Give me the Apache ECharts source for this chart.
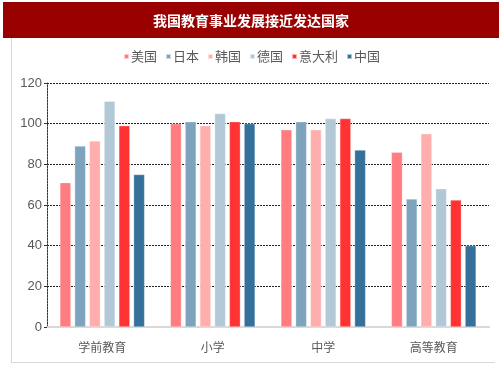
<!DOCTYPE html>
<html><head><meta charset="utf-8">
<script src="https://cdn.jsdelivr.net/npm/echarts@6/dist/echarts.min.js"></script>
<style>html,body{margin:0;padding:0;background:#fff}#c{width:503px;height:378px}</style>
</head><body><div id="c"></div>
<script>
const titleText = '我国教育事业发展接近发达国家';
const categories = ['学前教育', '小学', '中学', '高等教育'];
const seriesNames = ['美国', '日本', '韩国', '德国', '意大利', '中国'];
const usa = [71, 100, 97, 86];
const japan = [89, 101, 101, 63];
const korea = [91.5, 99, 97, 95];
const germany = [111, 105, 102.5, 68];
const italy = [99, 101, 102.5, 62.5];
const china = [75, 100, 87, 40];
const yTicks = [0, 20, 40, 60, 80, 100, 120];
const colors = ['#FF7C80', '#7EA3BC', '#FFADAD', '#B3C8D7', '#FF3334', '#34709A'];
const values = [usa, japan, korea, germany, italy, china];

const chart = echarts.init(document.getElementById('c'), null, {renderer: 'canvas'});
chart.setOption({
  animation: false,
  graphic: [
    {type: 'rect', shape: {x: 3, y: 2, width: 496, height: 36}, style: {fill: '#990000'}, z: -1},
    {type: 'text', x: 251, y: 21, style: {text: titleText, fill: '#fff', font: 'bold 14px "Noto Sans CJK SC"', align: 'center', verticalAlign: 'middle'}},
    {type: 'line', shape: {x1: 11.5, y1: 38, x2: 11.5, y2: 362}, style: {stroke: '#d9d9d9', lineWidth: 1}},
    {type: 'line', shape: {x1: 11, y1: 362.5, x2: 495, y2: 362.5}, style: {stroke: '#d9d9d9', lineWidth: 1}}
  ],
  legend: {
    top: 45, left: 'center',
    itemWidth: 5, itemHeight: 5, itemGap: 8,
    icon: 'rect',
    textStyle: {fontSize: 13, color: '#595959', fontFamily: '"Noto Sans CJK SC"', padding: [0, 0, 0, -3]},
    data: seriesNames
  },
  grid: {left: 47, right: 14, top: 83, bottom: 51, containLabel: false},
  xAxis: {
    type: 'category', data: categories,
    axisLine: {lineStyle: {color: '#d9d9d9', width: 2}},
    axisTick: {show: false},
    axisLabel: {fontSize: 12, color: '#595959', margin: 14, fontFamily: '"Noto Sans CJK SC"'}
  },
  yAxis: {
    type: 'value', min: 0, max: 120, interval: 20,
    axisLine: {show: true, lineStyle: {color: '#333', type: [2, 1], width: 1}},
    axisTick: {show: true, length: 3, lineStyle: {color: '#333'}},
    axisLabel: {fontSize: 13, color: '#595959', margin: 5, fontFamily: 'Liberation Sans',
      formatter: v => yTicks.includes(v) ? String(v) : ''},
    splitLine: {lineStyle: {color: '#222', type: [2, 1], width: 1}}
  },
  series: seriesNames.map((n, i) => ({
    name: n, type: 'bar', data: values[i], barWidth: 11, barGap: '34%',
    itemStyle: {color: colors[i], borderColor: 'rgba(255,255,255,0.6)', borderWidth: 0.5}
  }))
});
</script></body></html>
